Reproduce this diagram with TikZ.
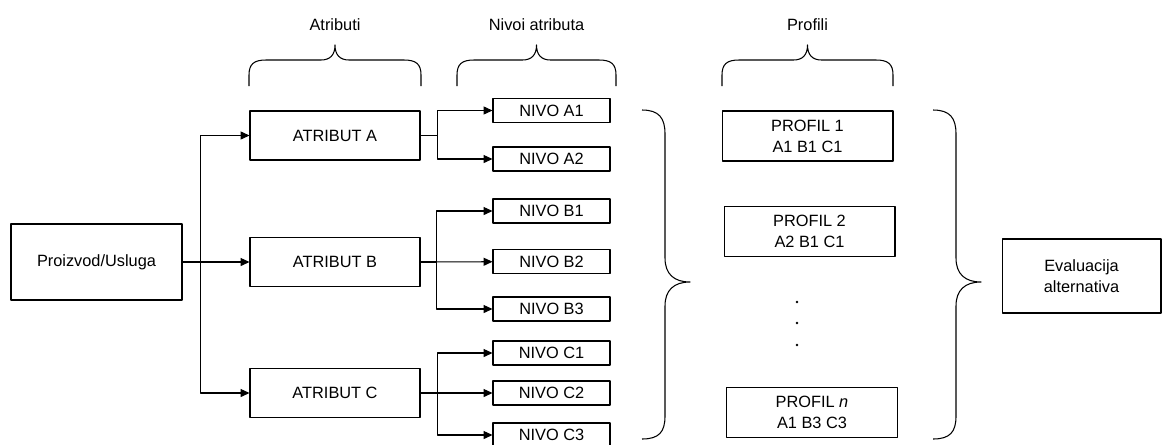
\documentclass[tikz,border=0pt]{standalone}
\usepackage{fontspec}
\setmainfont{Liberation Sans}
\usetikzlibrary{arrows.meta}

\begin{document}
\begin{tikzpicture}[x=0.02cm, y=-0.02cm, font=\fontsize{9.3}{12}\selectfont, line width=0.6pt, line join=round, >={Triangle[length=5pt,width=4.5pt]},
  box/.style={draw, align=center, inner sep=0pt},
  prodbox/.style={box, minimum width=3.42cm, minimum height=1.52cm},
  atrbox/.style={box, minimum width=3.4cm, minimum height=0.98cm},
  nivobox/.style={box, minimum width=2.34cm, minimum height=0.48cm},
  profbox/.style={box, minimum width=3.42cm, minimum height=1cm},
  evalbox/.style={box, minimum width=3.18cm, minimum height=1.48cm}]
\useasboundingbox (0,0) rectangle (1162,444);
% headers with braces
\foreach \xl/\xr/\lbl [count=\i] in {249/421/Atributi, 457/616/Nivoi atributa, 722/893/Profili} {
  \pgfmathsetmacro\xm{(\xl+\xr)/2}
  \node (hdr\i) at (\xm,25) {\lbl};
  \draw (\xl,86) -- (\xl,75) .. controls (\xl,64) and (\xl+5,60) .. (\xl+17,60) -- (\xm-14,60) .. controls (\xm-5,60) and (\xm,55) .. (\xm,45) .. controls (\xm,55) and (\xm+5,60) .. (\xm+14,60) -- (\xr-17,60) .. controls (\xr-5,60) and (\xr,64) .. (\xr,75) -- (\xr,86);
}
% boxes
\node[prodbox] (prod) at (96.5,262) {Proizvod/Usluga};
\node[atrbox] (atrA) at (335,135.5) {ATRIBUT A};
\node[atrbox] (atrB) at (335,262) {ATRIBUT B};
\node[atrbox] (atrC) at (335,393) {ATRIBUT C};
\node[nivobox] (nA1) at (551.5,110.5) {NIVO A1};
\node[nivobox] (nA2) at (551.5,159) {NIVO A2};
\node[nivobox] (nB1) at (551.5,211) {NIVO B1};
\node[nivobox] (nB2) at (551.5,261.5) {NIVO B2};
\node[nivobox] (nB3) at (551.5,309) {NIVO B3};
\node[nivobox] (nC1) at (551.5,353) {NIVO C1};
\node[nivobox] (nC2) at (551.5,393) {NIVO C2};
\node[nivobox] (nC3) at (551.5,435) {NIVO C3};
\node[profbox] (p1) at (807.5,136) {PROFIL 1\\A1 B1 C1};
\node[profbox] (p2) at (809.5,231.5) {PROFIL 2\\A2 B1 C1};
\node[profbox] (pn) at (812,412.5) {PROFIL \textit{n}\\A1 B3 C3};
\node[evalbox] (eval) at (1081.5,276) {Evaluacija\\alternativa};
\foreach \y in {302,323,345} \fill (797,\y) circle (1.4);
% connectors
\draw[->] (prod.east) -- ++(18,0) |- (atrA);
\draw[->] (prod.east) -- (atrB);
\draw[->] (prod.east) -- ++(18,0) |- (atrC);
\draw[->] (atrA.east) -- ++(17,0) |- (nA1);
\draw[->] (atrA.east) -- ++(17,0) |- (nA2);
\draw[->] (atrB.east) -- ++(16,0) |- (nB1);
\draw[->] (atrB.east) -- (nB2);
\draw[->] (atrB.east) -- ++(16,0) |- (nB3);
\draw[->] (atrC.east) -- ++(17,0) |- (nC1);
\draw[->] (atrC.east) -- (nC2);
\draw[->] (atrC.east) -- ++(17,0) |- (nC3);
% side braces
\foreach \x in {642,933}
  \draw (\x,110) .. controls (\x+17,110) and (\x+23,118) .. (\x+23,134) -- (\x+23,258) .. controls (\x+23,274) and (\x+32,282) .. (\x+48,282) .. controls (\x+32,282) and (\x+23,290) .. (\x+23,306) -- (\x+23,416) .. controls (\x+23,432) and (\x+17,439) .. (\x,439);
\end{tikzpicture}
\end{document}
